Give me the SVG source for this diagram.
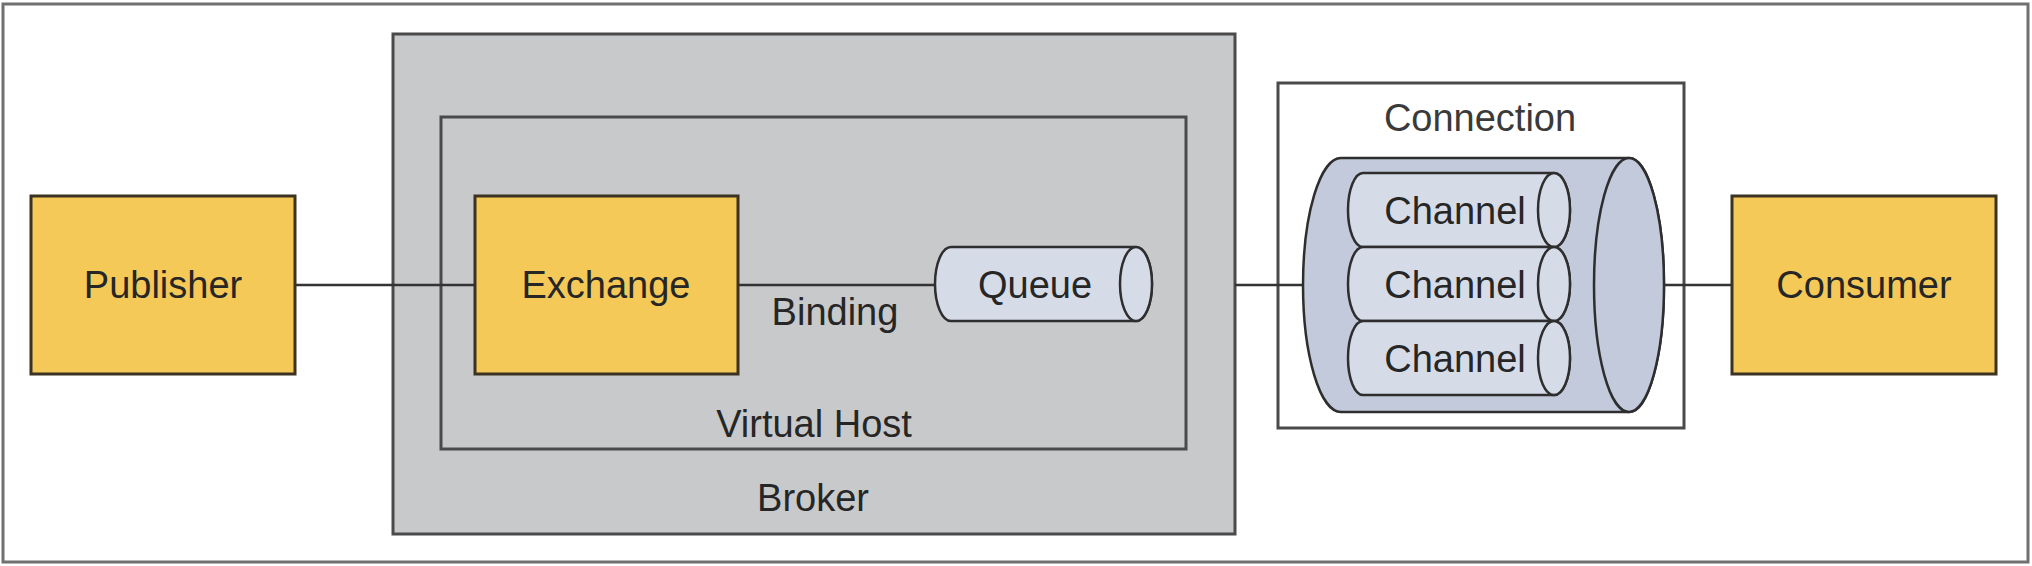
<svg xmlns="http://www.w3.org/2000/svg" width="2032" height="566" viewBox="0 0 2032 566">
<style>
  text { font-family: "Liberation Sans", Arial, sans-serif; font-size: 38px; fill: #262626; text-anchor: middle; }
  .yel { fill: #F5C957; stroke: #3b3222; stroke-width: 3; }
  .gray { fill: #C8C9CB; stroke: #4a4a4a; stroke-width: 3; }
  .cyl { fill: #D6DBE8; stroke: #2e2e2e; stroke-width: 2.5; }
  .bigcyl { fill: #C3CADB; stroke: #2e2e2e; stroke-width: 2.5; }
  .conn { stroke: #333; stroke-width: 2.5; fill: none; }
</style>
<rect x="0" y="0" width="2032" height="566" fill="#ffffff"/>
<rect id="frame" x="3" y="4" width="2025" height="558" fill="none" stroke="#707070" stroke-width="3"/>

<g id="broker">
  <rect class="gray" x="393" y="34" width="842" height="500"/>
  <text x="813" y="511">Broker</text>
</g>
<g id="virtual-host">
  <rect class="gray" x="441" y="117" width="745" height="332"/>
  <text x="814" y="437">Virtual Host</text>
</g>
<g id="connection">
  <rect x="1278" y="83" width="406" height="345" fill="#ffffff" stroke="#4a4a4a" stroke-width="3"/>
  <text x="1480" y="131" style="fill:#3a3a3a">Connection</text>
</g>

<g id="connectors">
  <line class="conn" x1="295" y1="285" x2="475" y2="285"/>
  <line class="conn" x1="738" y1="285" x2="935" y2="285"/>
  <line class="conn" x1="1235" y1="285" x2="1303" y2="285"/>
  <line class="conn" x1="1664" y1="285" x2="1732" y2="285"/>
  <text x="835" y="325">Binding</text>
</g>

<g id="publisher">
  <rect class="yel" x="31" y="196" width="264" height="178"/>
  <text x="163" y="298">Publisher</text>
</g>
<g id="exchange">
  <rect class="yel" x="475" y="196" width="263" height="178"/>
  <text x="606" y="298">Exchange</text>
</g>
<g id="queue">
  <path class="cyl" d="M951,247 L1136,247 A16 37 0 0 1 1136,321 L951,321 A16 37 0 0 1 951,247 Z"/>
  <ellipse class="cyl" cx="1136" cy="284" rx="16" ry="37"/>
  <text x="1035" y="298">Queue</text>
</g>
<g id="connection-pipe">
  <path class="bigcyl" d="M1341,158 L1629,158 A35 127 0 0 1 1629,412 L1341,412 A38 127 0 0 1 1341,158 Z"/>
  <ellipse class="bigcyl" cx="1629" cy="285" rx="35" ry="127"/>
</g>
<g id="channel1">
  <path class="cyl" d="M1363,173 L1554,173 A16 37 0 0 1 1554,247 L1363,247 A15 37 0 0 1 1363,173 Z"/>
  <ellipse class="cyl" cx="1554" cy="210" rx="16" ry="37"/>
  <text x="1455" y="224">Channel</text>
</g>
<g id="channel2">
  <path class="cyl" d="M1363,247 L1554,247 A16 37 0 0 1 1554,321 L1363,321 A15 37 0 0 1 1363,247 Z"/>
  <ellipse class="cyl" cx="1554" cy="284" rx="16" ry="37"/>
  <text x="1455" y="298">Channel</text>
</g>
<g id="channel3">
  <path class="cyl" d="M1363,321 L1554,321 A16 37 0 0 1 1554,395 L1363,395 A15 37 0 0 1 1363,321 Z"/>
  <ellipse class="cyl" cx="1554" cy="358" rx="16" ry="37"/>
  <text x="1455" y="372">Channel</text>
</g>
<g id="consumer">
  <rect class="yel" x="1732" y="196" width="264" height="178"/>
  <text x="1864" y="298">Consumer</text>
</g>
</svg>
